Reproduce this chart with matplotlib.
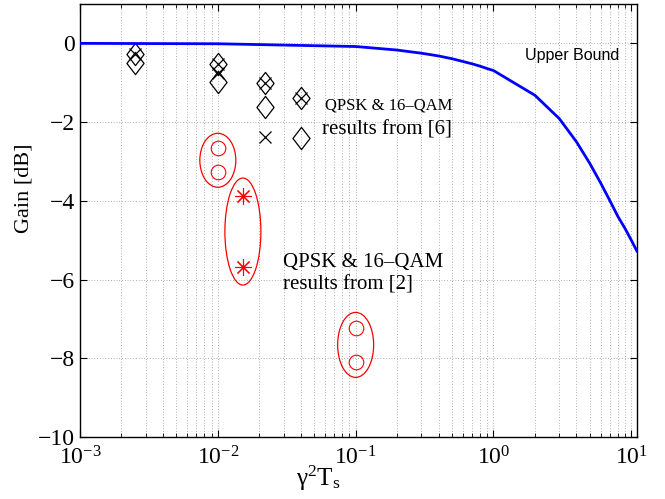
import numpy as np
import matplotlib
matplotlib.use("Agg")
import matplotlib.pyplot as plt
from matplotlib.path import Path
from matplotlib.patches import Ellipse
from matplotlib.transforms import ScaledTranslation

plt.rcParams['font.family'] = ['Liberation Serif', 'DejaVu Serif']
plt.rcParams['mathtext.fontset'] = 'custom'
plt.rcParams['mathtext.rm'] = 'Liberation Serif'
plt.rcParams['mathtext.it'] = 'Liberation Serif:italic'

# upper bound curve
bound_x = [0.001, 0.01, 0.1, 0.2, 0.3, 0.4, 0.5, 0.6, 0.7, 0.8, 0.9, 1,
           2, 3, 4, 5, 6, 7, 8, 9, 10, 11]
bound_y = [0.0, -0.01, -0.08, -0.17, -0.25, -0.32, -0.39, -0.46, -0.52, -0.58, -0.64, -0.69,
           -1.32, -1.91, -2.5, -3.05, -3.55, -4.0, -4.4, -4.7, -5.0, -5.28]

# results from [6]
diamond_x = [0.0025, 0.0025, 0.01, 0.01, 0.022, 0.022, 0.04, 0.04]
diamond_y = [-0.27, -0.5, -0.52, -0.98, -1.0, -1.62, -1.4, -2.4]
cross_x = [0.0025, 0.01, 0.01, 0.022, 0.022, 0.04]
cross_y = [-0.27, -0.52, -0.75, -1.0, -2.38, -1.4]

# results from [2]
circ1_x = [0.01, 0.01]
circ1_y = [-2.67, -3.27]
star_x = [0.0152, 0.0152]
star_y = [-3.88, -5.68]
circ2_x = [0.1, 0.1]
circ2_y = [-7.23, -8.09]

fig = plt.figure(figsize=(6.65, 4.99), dpi=100)
ax = fig.add_axes([80 / 665, 1 - 437 / 499, (637 - 80) / 665, (437 - 4) / 499])

diamond = Path([(0, 1), (0.77, 0), (0, -1), (-0.77, 0), (0, 1)],
               [Path.MOVETO, Path.LINETO, Path.LINETO, Path.LINETO, Path.CLOSEPOLY])

ax.plot(bound_x, bound_y, color='#0000ff', lw=2.0, zorder=3)
ax.plot(diamond_x, diamond_y, ls='none', marker=diamond, ms=16, mfc='none', mec='k', mew=0.9)
ax.plot(cross_x, cross_y, ls='none', marker='x', ms=8.5, mec='k', mew=0.9)
ax.plot(circ1_x, circ1_y, ls='none', marker='o', ms=10.5, mfc='none', mec='r', mew=0.8)
ax.plot(star_x, star_y, ls='none', marker=(8, 2, 0), ms=12, mec='r', mew=0.8)
ax.plot(circ2_x, circ2_y, ls='none', marker='o', ms=10.5, mfc='none', mec='r', mew=0.8)

# ellipses round each group, sized in inches
for gx, gy, w, h in [(circ1_x, circ1_y, 0.36, 0.54),
                     (star_x, star_y, 0.36, 1.07),
                     (circ2_x, circ2_y, 0.36, 0.65)]:
    cx = 10 ** np.mean(np.log10(gx))
    cy = np.mean(gy)
    tr = fig.dpi_scale_trans + ScaledTranslation(cx, cy, ax.transData)
    ax.add_patch(Ellipse((0, 0), w, h, transform=tr, fill=False, ec='r', lw=0.9))

ax.set_xscale('log')
ax.set_xlim(1e-3, 11)
ax.set_ylim(-10, 1)
ax.set_yticks([-10, -8, -6, -4, -2, 0])
ax.set_xticks([1e-3, 1e-2, 1e-1, 1, 10])

ax.grid(True, which='major', axis='both', color='k', ls=(0, (1, 3)), lw=0.5, alpha=0.6)
ax.grid(True, which='minor', axis='x', color='k', ls=(0, (1, 3)), lw=0.5, alpha=0.6)
ax.tick_params(which='both', direction='in', top=True, right=True, labelsize=17)
ax.tick_params(which='major', length=5)
ax.tick_params(which='minor', length=3)
ax.tick_params(axis='x', pad=7)
for s in ax.spines.values():
    s.set_linewidth(1.0)

ax.set_xlabel(r'$\mathregular{\gamma^2T_s}$', fontsize=18)
ax.xaxis.set_label_coords(0.427, -0.062)
ax.set_ylabel('Gain [dB]', fontsize=16)
ax.yaxis.set_label_coords(-0.084, 0.575)

ax.text(1.70, -0.30, 'Upper Bound', fontsize=11.5, va='center',
        family=['Liberation Sans', 'DejaVu Sans'])
ax.text(0.060, -1.57, 'QPSK & 16\u2013QAM', fontsize=12, va='center')
ax.text(0.057, -2.21, 'results from [6]', fontsize=15, va='center')
ax.text(0.0298, -5.56, 'QPSK & 16\u2013QAM', fontsize=15, va='center')
ax.text(0.0298, -6.14, 'results from [2]', fontsize=15, va='center')

fig.savefig('out.png', dpi=100)
